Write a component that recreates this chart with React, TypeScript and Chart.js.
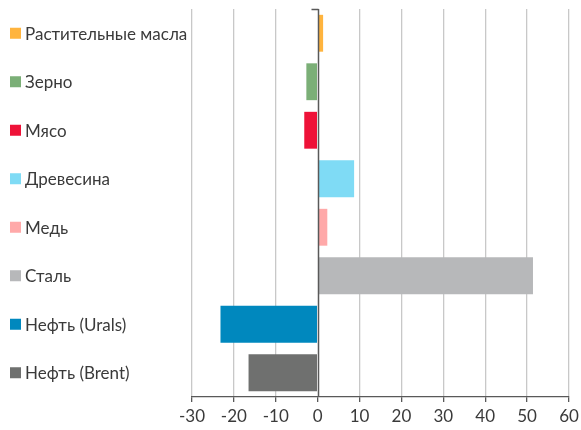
import React, { useEffect, useRef } from "react";
import { Chart, registerables } from "chart.js";

Chart.register(...registerables);

const categories = [
  "Растительные масла",
  "Зерно",
  "Мясо",
  "Древесина",
  "Медь",
  "Сталь",
  "Нефть (Urals)",
  "Нефть (Brent)",
];
const values = [1.3, -2.7, -3.2, 8.7, 2.3, 51.4, -23.2, -16.5];
const colors = [
  "#FFB43E",
  "#7BAF77",
  "#EE1238",
  "#7FDBF5",
  "#FFA9A9",
  "#B7B8BA",
  "#0088BE",
  "#6F706F",
];
const xTicks = [-30, -20, -10, 0, 10, 20, 30, 40, 50, 60];

const FONT = "Lato, 'Noto Sans', sans-serif";

export default function App() {
  const ref = useRef<HTMLCanvasElement | null>(null);

  useEffect(() => {
    document.body.style.margin = "0";
    const canvas = ref.current;
    if (!canvas) return;

    const labelPlugin = {
      id: "catLabels",
      afterDraw(chart: any) {
        const ctx = chart.ctx;
        const y = chart.scales.y;
        ctx.save();
        ctx.font = `17px ${FONT}`;
        ctx.textBaseline = "middle";
        ctx.textAlign = "left";
        categories.forEach((c, i) => {
          const py = y.getPixelForValue(i);
          ctx.fillStyle = colors[i];
          ctx.fillRect(10, py - 5.5, 11, 11);
          ctx.fillStyle = "#3a3a3a";
          ctx.fillText(c, 25, py + 1);
        });
        ctx.restore();
      },
    };

    const zeroLinePlugin = {
      id: "zeroLine",
      afterDatasetsDraw(chart: any) {
        const ctx = chart.ctx;
        const x = chart.scales.x;
        const area = chart.chartArea;
        const px = Math.round(x.getPixelForValue(0)) + 0.5;
        ctx.save();
        ctx.strokeStyle = "#595959";
        ctx.lineWidth = 1.5;
        ctx.beginPath();
        ctx.moveTo(px, area.top);
        ctx.lineTo(px, area.bottom);
        ctx.moveTo(px - 7, area.top + 0.5);
        ctx.lineTo(px, area.top + 0.5);
        ctx.stroke();
        ctx.restore();
      },
    };

    const chart = new Chart(canvas, {
      type: "bar",
      data: {
        labels: categories,
        datasets: [
          {
            data: values,
            backgroundColor: colors,
            borderWidth: 0,
            categoryPercentage: 1,
            barPercentage: 0.76,
          },
        ],
      },
      options: {
        indexAxis: "y",
        animation: false,
        responsive: false,
        maintainAspectRatio: false,
        layout: { padding: { top: 9, right: 12, left: 0, bottom: 0 } },
        plugins: {
          legend: { display: false },
          tooltip: { enabled: false },
        },
        scales: {
          x: {
            type: "linear",
            min: -30,
            max: 60,
            afterBuildTicks(scale: any) {
              scale.ticks = xTicks.map((v) => ({ value: v }));
            },
            afterFit(scale: any) {
              scale.height = 33;
              scale.paddingLeft = 0;
              scale.paddingRight = 0;
            },
            ticks: {
              font: { family: FONT, size: 17 },
              color: "#3a3a3a",
              padding: 4,
              maxRotation: 0,
            },
            grid: {
              color: (ctx: any) =>
                ctx.tick && ctx.tick.value === 0 ? "rgba(0,0,0,0)" : "#C8C8C8",
              lineWidth: 1.3,
              tickColor: "#595959",
              tickLength: 5,
              drawTicks: true,
            },
            border: { display: true, color: "#595959", width: 1.3 },
          },
          y: {
            type: "category",
            ticks: { display: false },
            grid: { display: false },
            border: { display: false },
            afterFit(scale: any) {
              scale.width = 192;
            },
          },
        },
      },
      plugins: [zeroLinePlugin, labelPlugin],
    });

    return () => chart.destroy();
  }, []);

  return (
    <div style={{ width: 581, height: 430, background: "#fff" }}>
      <canvas ref={ref} width={581} height={430} style={{ display: "block" }} />
    </div>
  );
}
